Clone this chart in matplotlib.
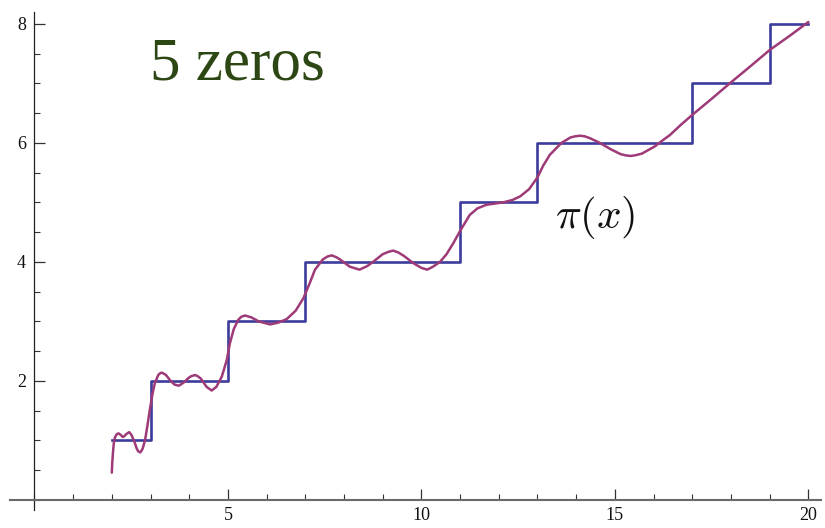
import matplotlib
matplotlib.use("Agg")
import matplotlib.pyplot as plt
from matplotlib.ticker import MultipleLocator, FixedLocator

# Prime-counting step function pi(x)
step_x = [2, 3, 5, 7, 11, 13, 17, 19, 20]
step_y = [1, 2, 3, 4, 5, 6, 7, 8, 8]

# Approximation of pi(x) using the first 5 zeta zeros
approx_x = [2.00, 2.01, 2.03, 2.05, 2.08, 2.12, 2.17, 2.22, 2.28, 2.32,
            2.36, 2.40, 2.45, 2.50, 2.55, 2.60, 2.64, 2.68, 2.73, 2.76,
            2.80, 2.86, 2.92, 2.98, 3.05, 3.11, 3.20, 3.25, 3.29, 3.35,
            3.40, 3.52, 3.62, 3.73, 3.85, 3.98, 4.05, 4.15, 4.22, 4.30,
            4.45, 4.58, 4.70, 4.84, 4.97, 5.05, 5.15, 5.27, 5.35, 5.44,
            5.60, 5.80, 6.09, 6.30, 6.52, 6.75, 6.95, 7.10, 7.25, 7.45,
            7.57, 7.68, 7.80, 7.90, 8.15, 8.40, 8.60, 8.75, 9.00, 9.15,
            9.27, 9.40, 9.55, 9.79, 10.00, 10.15, 10.30, 10.48, 10.65, 10.82,
            11.00, 11.25, 11.45, 11.68, 12.11, 12.35, 12.55, 12.78, 13.00, 13.15,
            13.32, 13.62, 13.85, 13.97, 14.10, 14.22, 14.35, 14.61, 14.90, 15.15,
            15.28, 15.40, 15.52, 15.70, 16.03, 16.25, 16.42, 16.70, 17.00, 17.50,
            17.97, 18.49, 19.00, 19.50, 20.00]
approx_y = [0.46, 0.62, 0.80, 0.95, 1.05, 1.10, 1.12, 1.10, 1.06, 1.07,
            1.10, 1.12, 1.14, 1.10, 1.03, 0.95, 0.87, 0.82, 0.80, 0.82,
            0.87, 1.01, 1.25, 1.51, 1.78, 1.96, 2.10, 2.13, 2.14, 2.12,
            2.10, 2.00, 1.94, 1.92, 1.97, 2.05, 2.08, 2.10, 2.08, 2.04,
            1.90, 1.84, 1.90, 2.07, 2.35, 2.63, 2.87, 3.03, 3.08, 3.10,
            3.07, 3.00, 2.95, 2.98, 3.04, 3.18, 3.39, 3.62, 3.87, 4.04,
            4.09, 4.11, 4.08, 4.04, 3.92, 3.87, 3.93, 4.00, 4.13, 4.17,
            4.19, 4.16, 4.10, 3.98, 3.90, 3.87, 3.92, 4.00, 4.13, 4.31,
            4.52, 4.79, 4.90, 4.96, 5.00, 5.04, 5.10, 5.22, 5.42, 5.62,
            5.80, 6.00, 6.09, 6.11, 6.12, 6.11, 6.08, 6.00, 5.89, 5.81,
            5.79, 5.78, 5.79, 5.82, 5.94, 6.05, 6.13, 6.30, 6.47, 6.74,
            7.00, 7.28, 7.56, 7.79, 8.03]

x_major = [5, 10, 15, 20]
y_major = [2, 4, 6, 8]
title_text = "5 zeros"
curve_label = r"$\pi(x)$"

plt.rcParams['mathtext.fontset'] = 'cm'

fig = plt.figure(figsize=(8.25, 5.28), dpi=100)
ax = fig.add_axes([0, 0, 1, 1])
ax.set_xlim(-0.89, 20.43)
ax.set_ylim(-0.47, 8.40)

ax.step(step_x, step_y, where='post', color='#3c3c9c', lw=1.9, zorder=2)
ax.plot(approx_x, approx_y, color='#9e3a78', lw=1.8, zorder=3,
        solid_joinstyle='round', solid_capstyle='round')

# Axes through the origin
for s in ['top', 'right']:
    ax.spines[s].set_visible(False)
ax.spines['left'].set_position(('data', 0))
ax.spines['bottom'].set_position(('data', 0))
ax.spines['bottom'].set_bounds(-0.62, 20.33)
ax.spines['left'].set_bounds(-0.17, 8.2)
ax.spines['bottom'].set_color('#6a6a6a')
ax.spines['bottom'].set_linewidth(1.5)
ax.spines['left'].set_color('#222222')
ax.spines['left'].set_linewidth(0.9)

ax.xaxis.set_major_locator(FixedLocator(x_major))
ax.xaxis.set_minor_locator(MultipleLocator(1))
ax.yaxis.set_major_locator(FixedLocator(y_major))
ax.yaxis.set_minor_locator(MultipleLocator(0.5))
ax.tick_params(axis='x', which='major', direction='in', length=8, width=0.9,
               color='#333333', pad=5)
ax.tick_params(axis='x', which='minor', direction='in', length=4.5, width=0.8,
               color='#333333')
ax.tick_params(axis='y', which='major', direction='in', length=8, width=0.9,
               color='#333333', pad=6)
ax.tick_params(axis='y', which='minor', direction='in', length=4.5, width=0.8,
               color='#333333')
for lab in ax.get_xticklabels() + ax.get_yticklabels():
    lab.set_fontfamily('Liberation Serif')
    lab.set_fontsize(13)
    lab.set_color('#111111')

ax.text(2.98, 7.06, title_text, fontsize=44, family='Liberation Serif',
        color='#2c4714', ha='left', va='baseline')
ax.text(13.45, 4.74, curve_label, fontsize=31, color='#111111',
        ha='left', va='center')

fig.savefig('out.png', dpi=100)
